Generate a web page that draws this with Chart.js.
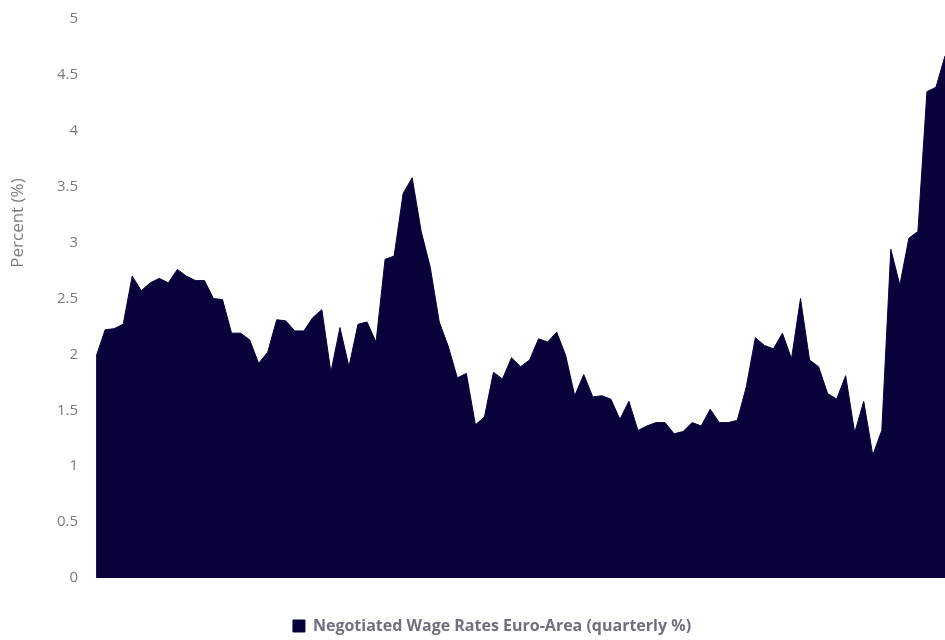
<!DOCTYPE html>
<html>
<head>
<meta charset="utf-8">
<script src="https://cdn.jsdelivr.net/npm/chart.js@4/dist/chart.umd.min.js"></script>
<style>
  html, body { margin: 0; padding: 0; background: #fff; }
  #wrap { width: 945px; height: 640px; }
</style>
</head>
<body>
<div id="wrap"><canvas id="wageChart"></canvas></div>
<script>
// quarterly, 2000Q1 .. 2023Q3
const quarters = [];
for (let y = 2000; y <= 2023; y++) {
  for (let q = 1; q <= 4; q++) {
    if (y === 2023 && q > 3) break;
    quarters.push(y + 'Q' + q);
  }
}

const wageRates = [
  1.98, 2.22, 2.23, 2.27, 2.70, 2.57, 2.64, 2.68, 2.64, 2.76,
  2.70, 2.66, 2.66, 2.50, 2.49, 2.19, 2.19, 2.13, 1.92, 2.02,
  2.31, 2.30, 2.21, 2.21, 2.33, 2.40, 1.84, 2.24, 1.89, 2.27,
  2.29, 2.11, 2.85, 2.88, 3.44, 3.58, 3.10, 2.78, 2.29, 2.07,
  1.79, 1.83, 1.37, 1.44, 1.84, 1.78, 1.97, 1.89, 1.95, 2.14,
  2.11, 2.20, 1.99, 1.63, 1.82, 1.62, 1.63, 1.60, 1.42, 1.58,
  1.32, 1.36, 1.39, 1.39, 1.29, 1.31, 1.39, 1.36, 1.51, 1.39,
  1.39, 1.41, 1.71, 2.15, 2.08, 2.05, 2.19, 1.96, 2.50, 1.95,
  1.89, 1.65, 1.60, 1.81, 1.30, 1.58, 1.10, 1.32, 2.94, 2.62,
  3.04, 3.10, 4.35, 4.39, 4.67
];

const yTicks = [0, 0.5, 1, 1.5, 2, 2.5, 3, 3.5, 4, 4.5, 5];

const navy = '#07033a';
const grey = '#7a7a85';

// y title sits above the middle of the axis in the original
const yTitlePlugin = {
  id: 'yTitle',
  afterDraw(chart) {
    const {ctx, chartArea} = chart;
    ctx.save();
    ctx.translate(18, chartArea.top + (chartArea.bottom - chartArea.top) * 0.365);
    ctx.rotate(-Math.PI / 2);
    ctx.fillStyle = grey;
    ctx.font = '17px "Open Sans", sans-serif';
    ctx.textAlign = 'center';
    ctx.textBaseline = 'middle';
    ctx.fillText('Percent (%)', 0, 0);
    ctx.restore();
  }
};

new Chart(document.getElementById('wageChart'), {
  type: 'line',
  data: {
    labels: quarters,
    datasets: [{
      label: 'Negotiated Wage Rates Euro-Area (quarterly %)',
      data: wageRates,
      borderColor: navy,
      backgroundColor: navy,
      borderWidth: 1,
      fill: 'origin',
      tension: 0,
      pointRadius: 0
    }]
  },
  options: {
    responsive: true,
    maintainAspectRatio: false,
    animation: false,
    layout: { padding: { left: 39, right: 0, top: 19, bottom: -4 } },
    plugins: {
      legend: {
        position: 'bottom',
        labels: {
          boxWidth: 12,
          boxHeight: 12,
          padding: 3,
          color: '#6e7080',
          font: { family: '"Open Sans", sans-serif', size: 16, weight: 'bold' }
        }
      },
      tooltip: { enabled: false }
    },
    scales: {
      x: {
        offset: false,
        grid: { display: false },
        border: { display: false },
        ticks: { display: false },
        afterFit(axis) { axis.height = 37; }
      },
      y: {
        min: 0,
        max: 5,
        afterBuildTicks(axis) { axis.ticks = yTicks.map(v => ({value: v})); },
        afterFit(axis) { axis.paddingTop = 0; axis.paddingBottom = 0; },
        grid: { display: false, drawTicks: false },
        border: { display: false },
        ticks: {
          color: grey,
          padding: 18,
          font: { family: '"Open Sans", sans-serif', size: 15 },
          callback: v => String(v)
        }
      }
    }
  },
  plugins: [yTitlePlugin]
});
</script>
</body>
</html>
